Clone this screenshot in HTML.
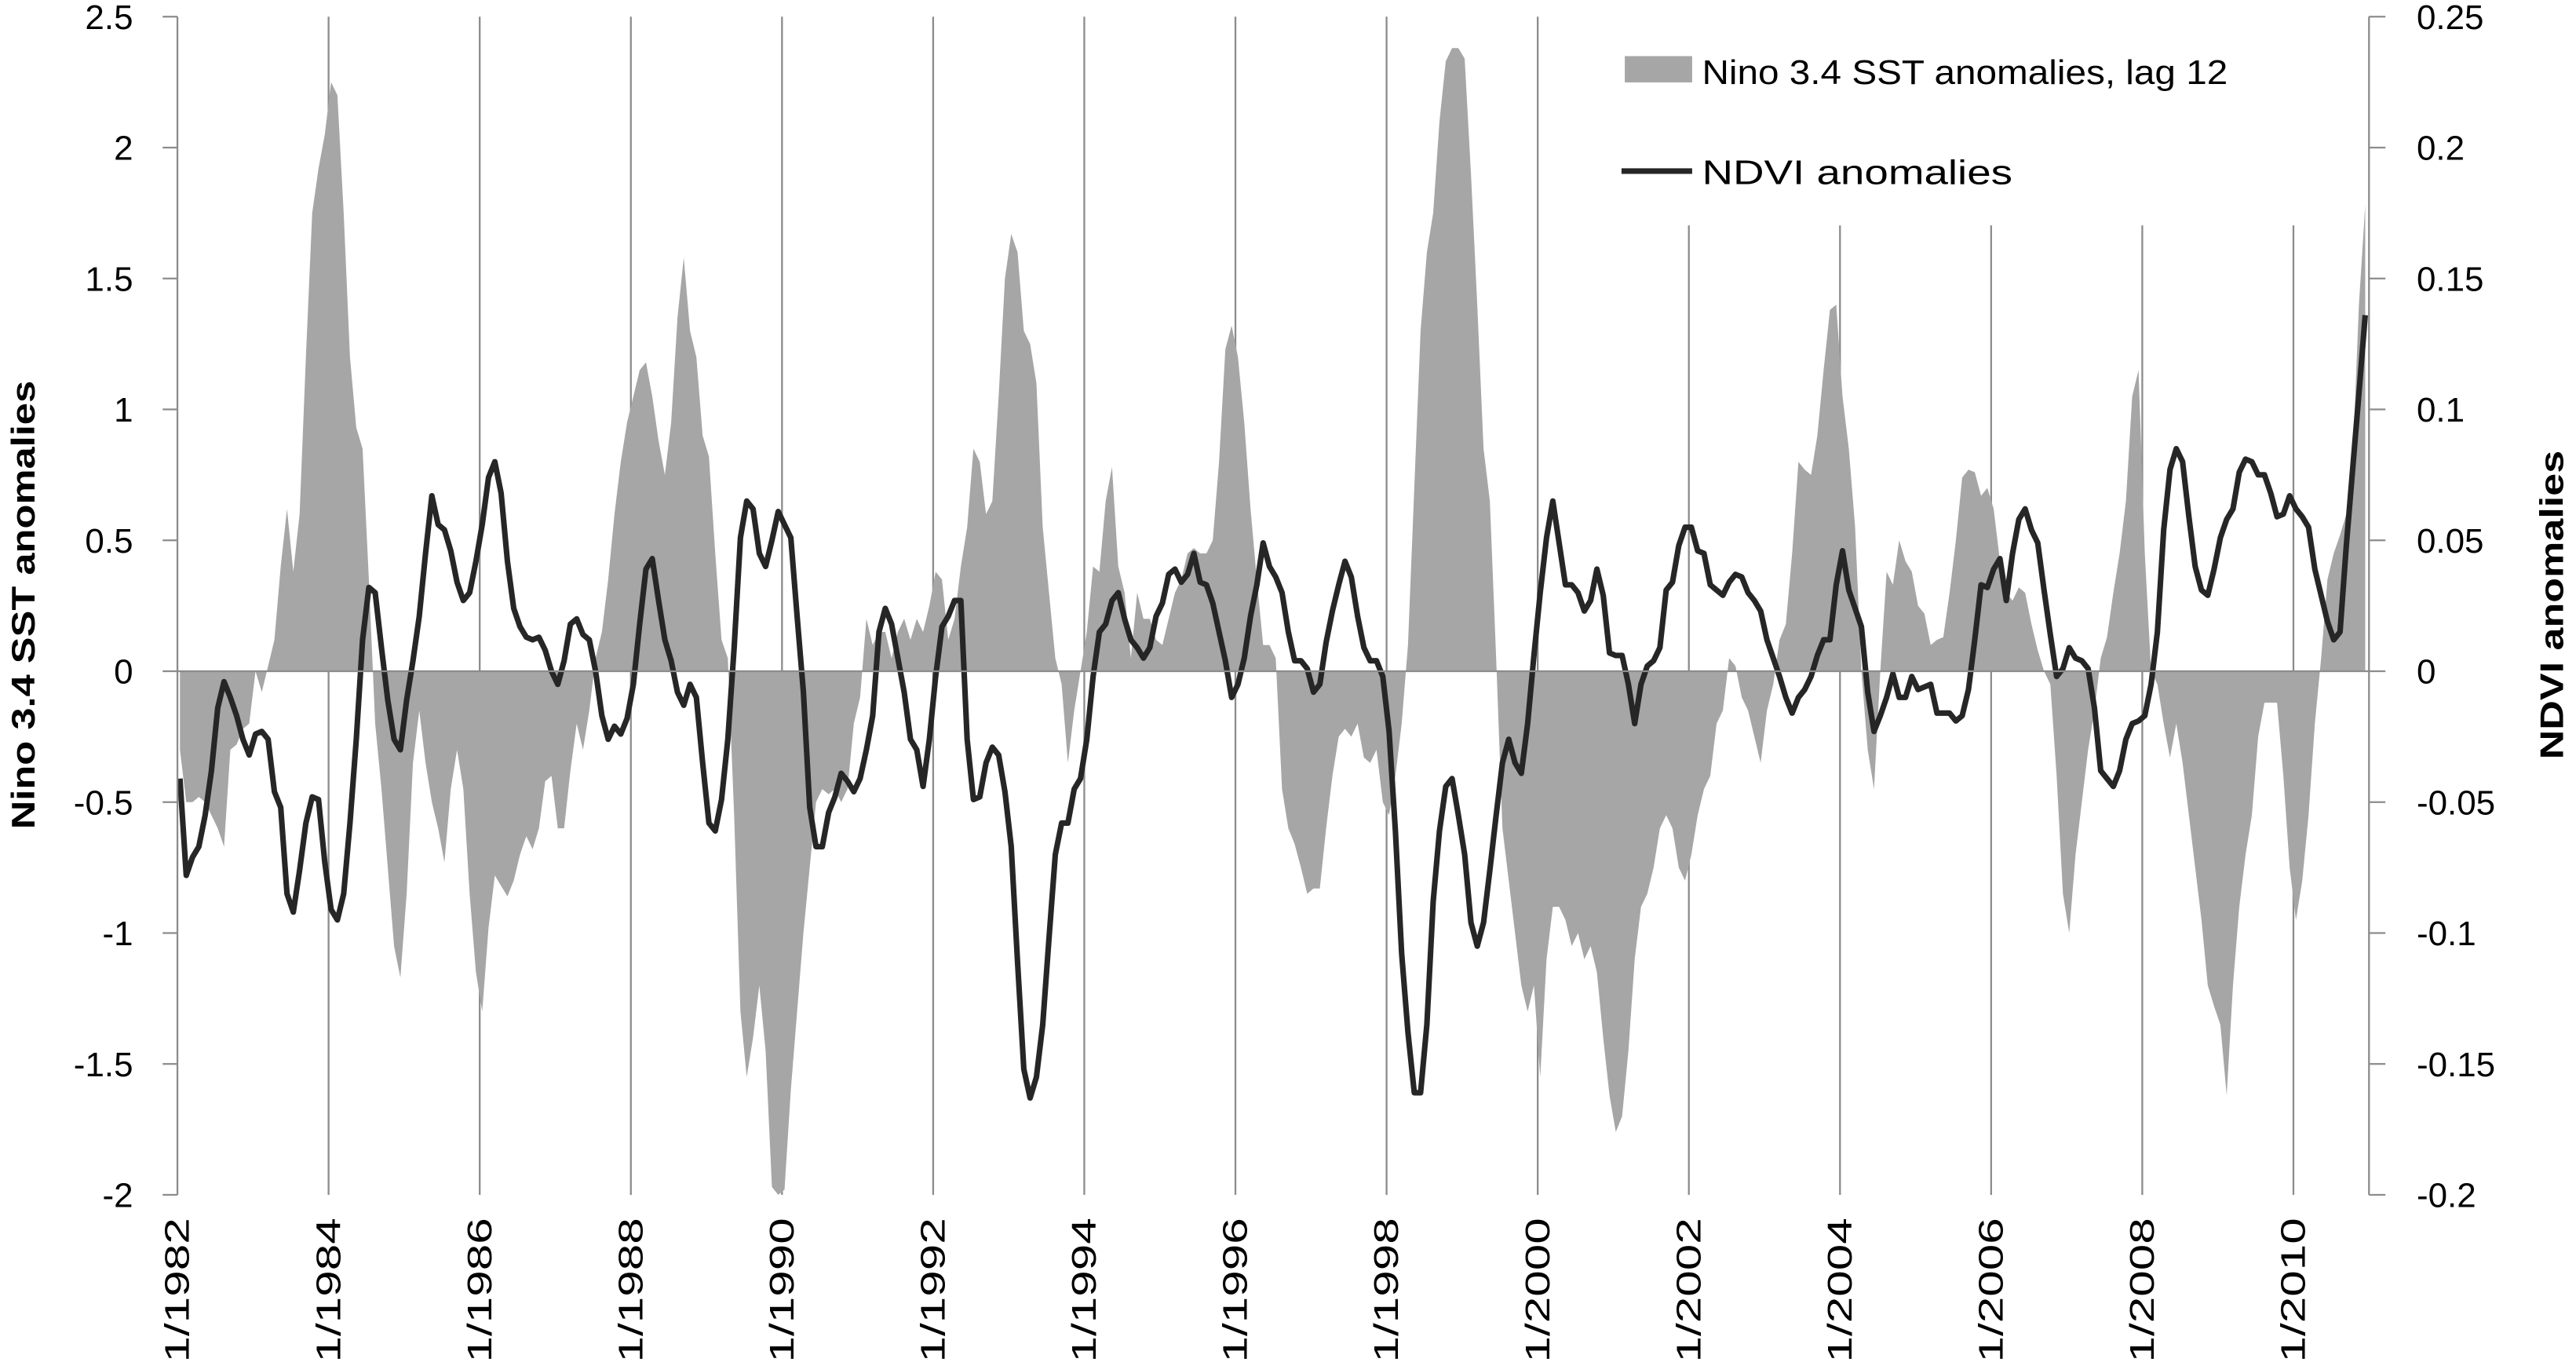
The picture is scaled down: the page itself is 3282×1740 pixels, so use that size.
<!DOCTYPE html>
<html><head><meta charset="utf-8"><style>
html,body{margin:0;padding:0;background:#fff;}
svg{display:block;}
text{font-family:"Liberation Sans",sans-serif;fill:#000;}
</style></head><body>
<svg id="chart" width="3282" height="1740" viewBox="0 0 1568 831" xmlns="http://www.w3.org/2000/svg">
<g id="grid"></g>
<g id="area"></g>
<g id="line"></g>
<g id="axes"></g>
<g id="legend">
<rect x="989" y="34" width="41" height="16" fill="#a6a6a6"/>
<text x="1036" y="51" font-size="21" textLength="320" lengthAdjust="spacingAndGlyphs">Nino 3.4 SST anomalies, lag 12</text>
<line x1="987" y1="104" x2="1030" y2="104" stroke="#262626" stroke-width="3.4"/>
<text x="1036" y="112" font-size="21" textLength="189" lengthAdjust="spacingAndGlyphs">NDVI anomalies</text>
</g>
<text transform="translate(21,368) rotate(-90)" text-anchor="middle" font-size="20" font-weight="bold" textLength="273" lengthAdjust="spacingAndGlyphs">Nino 3.4 SST anomalies</text>
<text transform="translate(1560,368) rotate(-90)" text-anchor="middle" font-size="20" font-weight="bold" textLength="188" lengthAdjust="spacingAndGlyphs">NDVI anomalies</text>
</svg>
<script>
const sst = [-0.3,-0.5,-0.5,-0.48,-0.5,-0.55,-0.6,-0.67,-0.3,-0.28,-0.22,-0.2,
0.0,-0.08,0.02,0.12,0.4,0.62,0.38,0.6,1.2,1.75,1.92,2.05,
2.25,2.2,1.75,1.2,0.93,0.85,0.35,-0.2,-0.45,-0.75,-1.05,-1.17,
-0.85,-0.35,-0.15,-0.35,-0.5,-0.6,-0.73,-0.45,-0.3,-0.45,-0.85,-1.15,
-1.3,-0.98,-0.78,-0.82,-0.86,-0.8,-0.7,-0.63,-0.68,-0.6,-0.42,-0.4,
-0.6,-0.6,-0.38,-0.2,-0.3,-0.15,0.05,0.15,0.35,0.6,0.8,0.95,
1.05,1.15,1.18,1.05,0.88,0.75,0.95,1.35,1.58,1.3,1.2,0.9,
0.82,0.45,0.12,0.05,-0.55,-1.3,-1.55,-1.4,-1.2,-1.45,-1.97,-2.0,
-1.98,-1.6,-1.3,-1.0,-0.75,-0.5,-0.45,-0.47,-0.45,-0.5,-0.45,-0.2,
-0.1,0.2,0.1,0.15,0.15,0.05,0.15,0.2,0.12,0.2,0.15,0.25,
0.38,0.35,0.12,0.2,0.4,0.55,0.85,0.8,0.6,0.65,1.05,1.5,
1.67,1.6,1.3,1.25,1.1,0.55,0.3,0.05,-0.05,-0.35,-0.15,0.0,
0.15,0.4,0.38,0.65,0.78,0.4,0.3,0.05,0.3,0.2,0.2,0.12,
0.1,0.2,0.3,0.35,0.45,0.47,0.45,0.45,0.5,0.8,1.23,1.32,
1.2,0.95,0.62,0.35,0.1,0.1,0.05,-0.45,-0.6,-0.66,-0.75,-0.85,
-0.83,-0.83,-0.6,-0.4,-0.25,-0.22,-0.25,-0.2,-0.33,-0.35,-0.3,-0.5,
-0.55,-0.4,-0.2,0.1,0.7,1.3,1.6,1.75,2.1,2.33,2.38,2.38,
2.34,1.9,1.4,0.85,0.65,0.05,-0.6,-0.8,-1.0,-1.2,-1.3,-1.2,
-1.55,-1.1,-0.9,-0.9,-0.95,-1.05,-1.0,-1.1,-1.05,-1.15,-1.4,-1.62,
-1.76,-1.7,-1.45,-1.1,-0.9,-0.85,-0.75,-0.6,-0.55,-0.6,-0.75,-0.8,
-0.7,-0.55,-0.45,-0.4,-0.2,-0.15,0.05,0.02,-0.1,-0.15,-0.25,-0.35,
-0.15,-0.05,0.12,0.18,0.45,0.8,0.77,0.75,0.9,1.15,1.38,1.4,
1.05,0.85,0.55,0.0,-0.3,-0.45,0.0,0.38,0.33,0.5,0.42,0.38,
0.25,0.22,0.1,0.12,0.13,0.3,0.5,0.74,0.77,0.76,0.67,0.7,
0.62,0.42,0.3,0.27,0.32,0.3,0.18,0.08,0.0,-0.05,-0.4,-0.85,
-1.0,-0.7,-0.5,-0.3,-0.15,0.05,0.13,0.3,0.45,0.65,1.05,1.15,
0.45,0.0,-0.05,-0.2,-0.33,-0.2,-0.35,-0.55,-0.75,-0.95,-1.2,-1.28,
-1.35,-1.62,-1.2,-0.9,-0.7,-0.55,-0.25,-0.12,-0.12,-0.12,-0.4,-0.75,
-0.95,-0.8,-0.55,-0.2,0.05,0.35,0.45,0.52,0.6,0.8,1.4,1.78];
const ndvi = [-0.041,-0.078,-0.071,-0.067,-0.055,-0.038,-0.014,-0.004,-0.01,-0.017,-0.026,-0.032,
-0.024,-0.023,-0.026,-0.046,-0.052,-0.085,-0.092,-0.076,-0.058,-0.048,-0.049,-0.073,
-0.091,-0.095,-0.085,-0.058,-0.026,0.012,0.032,0.030,0.009,-0.011,-0.026,-0.03,
-0.011,0.004,0.021,0.045,0.067,0.056,0.054,0.046,0.034,0.027,0.03,0.042,
0.056,0.074,0.08,0.068,0.042,0.024,0.017,0.013,0.012,0.013,0.008,0.0,
-0.005,0.004,0.018,0.02,0.014,0.012,0.0,-0.017,-0.026,-0.021,-0.024,-0.018,
-0.005,0.018,0.039,0.043,0.027,0.012,0.004,-0.008,-0.013,-0.005,-0.01,-0.035,
-0.058,-0.061,-0.049,-0.026,0.009,0.051,0.065,0.062,0.045,0.04,0.05,0.061,
0.056,0.051,0.021,-0.008,-0.052,-0.067,-0.067,-0.054,-0.048,-0.039,-0.042,-0.046,
-0.041,-0.03,-0.017,0.015,0.024,0.018,0.005,-0.008,-0.026,-0.03,-0.044,-0.026,
-0.002,0.017,0.021,0.027,0.027,-0.026,-0.049,-0.048,-0.035,-0.029,-0.032,-0.046,
-0.067,-0.111,-0.152,-0.163,-0.155,-0.135,-0.102,-0.07,-0.058,-0.058,-0.045,-0.041,
-0.026,-0.002,0.015,0.018,0.027,0.03,0.02,0.012,0.009,0.005,0.009,0.021,
0.026,0.037,0.039,0.034,0.037,0.045,0.034,0.033,0.026,0.015,0.004,-0.01,
-0.005,0.005,0.021,0.033,0.049,0.04,0.036,0.03,0.015,0.004,0.004,0.001,
-0.008,-0.005,0.011,0.023,0.033,0.042,0.036,0.021,0.009,0.004,0.004,-0.002,
-0.023,-0.061,-0.108,-0.138,-0.161,-0.161,-0.135,-0.088,-0.061,-0.044,-0.041,-0.055,
-0.07,-0.096,-0.105,-0.096,-0.076,-0.055,-0.035,-0.026,-0.035,-0.039,-0.02,0.006,
0.03,0.051,0.065,0.049,0.033,0.033,0.03,0.023,0.027,0.039,0.029,0.007,
0.006,0.006,-0.005,-0.02,-0.005,0.002,0.004,0.009,0.031,0.034,0.048,0.055,
0.055,0.046,0.045,0.033,0.031,0.029,0.034,0.037,0.036,0.03,0.027,0.023,
0.012,0.005,-0.002,-0.01,-0.016,-0.01,-0.007,-0.002,0.006,0.012,0.012,0.033,
0.046,0.031,0.024,0.017,-0.008,-0.023,-0.017,-0.01,-0.001,-0.01,-0.01,-0.002,
-0.007,-0.006,-0.005,-0.016,-0.016,-0.016,-0.019,-0.017,-0.007,0.012,0.033,0.032,
0.039,0.043,0.027,0.045,0.058,0.062,0.054,0.049,0.031,0.014,-0.002,0.001,
0.009,0.005,0.004,0.001,-0.014,-0.038,-0.041,-0.044,-0.038,-0.026,-0.02,-0.019,
-0.017,-0.005,0.015,0.054,0.077,0.085,0.08,0.059,0.04,0.031,0.029,0.039,
0.051,0.058,0.062,0.076,0.081,0.08,0.075,0.075,0.068,0.059,0.06,0.067,
0.062,0.059,0.055,0.039,0.029,0.019,0.012,0.015,0.048,0.077,0.106,0.136];
const leftTicks = [2.5,2,1.5,1,0.5,0,-0.5,-1,-1.5,-2];
const leftTickLabels = ["2.5","2","1.5","1","0.5","0","-0.5","-1","-1.5","-2"];
const rightTicks = [0.25,0.2,0.15,0.1,0.05,0,-0.05,-0.1,-0.15,-0.2];
const rightTickLabels = ["0.25","0.2","0.15","0.1","0.05","0","-0.05","-0.1","-0.15","-0.2"];
const yearLabels = ["1/1982","1/1984","1/1986","1/1988","1/1990","1/1992","1/1994","1/1996","1/1998","1/2000","1/2002","1/2004","1/2006","1/2008","1/2010"];

const NS="http://www.w3.org/2000/svg";
const X0=108, X1=1442, YT=10, YB=727, NM=348;
const xM = m => X0 + m*(X1-X0)/NM;
const xData = i => xM(i+0.4);
const yL = v => YT + (2.5 - v)/4.5*(YB-YT);
const yR = v => YT + (0.25 - v)/0.45*(YB-YT);
function mk(tag, attrs, parent){const e=document.createElementNS(NS,tag);for(const k in attrs)e.setAttribute(k,attrs[k]);parent.appendChild(e);return e;}
const grid=document.getElementById('grid'), axes=document.getElementById('axes');

yearLabels.forEach((lab,k)=>{
  const x=xM(k*24);
  if(k>0){
    const top = x>1000 ? 137 : YT;
    const gl=mk('line',{x1:x,y1:top,x2:x,y2:YB,stroke:'#8c8c8c','stroke-width':1.1},grid);
    
    
  }
  const t=mk('text',{transform:`translate(${x+7},741) rotate(-90)`,'text-anchor':'end','font-size':21,textLength:88,lengthAdjust:'spacingAndGlyphs'},axes);
  t.textContent=lab;
  
  
});

// area
const area=document.getElementById('area');
let d=`M${xData(0)},${yL(0)}`;
sst.forEach((v,i)=>{d+=` L${xData(i).toFixed(2)},${yL(v).toFixed(2)}`;});
d+=` L${xData(sst.length-1)},${yL(0)} Z`;
const ap=mk('path',{d:d,fill:'#a6a6a6',stroke:'none'},area);



// zero line
const zl=mk('line',{x1:X0,y1:yL(0),x2:X1,y2:yL(0),stroke:'#8c8c8c','stroke-width':1.1},axes);



// ndvi line
const lineG=document.getElementById('line');
const pts=ndvi.map((v,i)=>xData(i).toFixed(2)+','+yR(v).toFixed(2)).join(' ');
const pl=mk('polyline',{points:pts,fill:'none',stroke:'#262626','stroke-width':3.4,'stroke-linejoin':'round'},lineG);



// axes
const la=mk('line',{x1:X0,y1:YT,x2:X0,y2:YB,stroke:'#8c8c8c','stroke-width':1.1},axes);


const ra=mk('line',{x1:X1,y1:YT,x2:X1,y2:YB,stroke:'#8c8c8c','stroke-width':1.1},axes);


leftTicks.forEach((v,i)=>{
  const y=yL(v);
  const tk=mk('line',{x1:X0-9,y1:y,x2:X0,y2:y,stroke:'#8c8c8c','stroke-width':1.1},axes);
  
  
  const t=mk('text',{x:81,y:y+7.5,'text-anchor':'end','font-size':21},axes);
  t.textContent=leftTickLabels[i];
  
  
});
rightTicks.forEach((v,i)=>{
  const y=yR(v);
  const tk=mk('line',{x1:X1,y1:y,x2:X1+10,y2:y,stroke:'#8c8c8c','stroke-width':1.1},axes);
  
  
  const t=mk('text',{x:1471,y:y+7.5,'text-anchor':'start','font-size':21},axes);
  t.textContent=rightTickLabels[i];
  
  
});
</script>
</body></html>
